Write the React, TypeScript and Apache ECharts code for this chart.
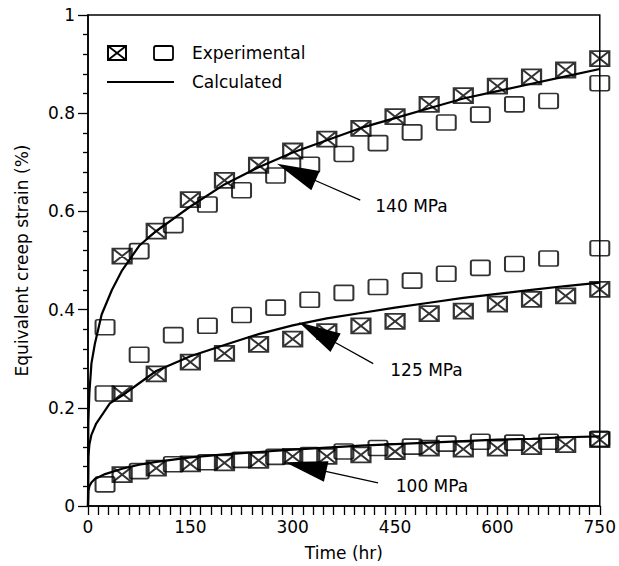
import React, { useEffect, useRef } from "react";
import * as echarts from "echarts";

// Experimental times (hr)
const CROSS_TIMES = [50, 100, 150, 200, 250, 300, 350, 400, 450, 500, 550, 600, 650, 700, 750];
const OPEN_TIMES = [25, 75, 125, 175, 225, 275, 325, 375, 425, 475, 525, 575, 625, 675, 750];

// Experimental strains (%)
const EXP_140_CROSS = [0.509, 0.56, 0.624, 0.663, 0.694, 0.723, 0.747, 0.769, 0.793, 0.818, 0.836, 0.855, 0.874, 0.888, 0.911];
const EXP_140_OPEN = [0.364, 0.519, 0.572, 0.614, 0.643, 0.673, 0.695, 0.717, 0.739, 0.761, 0.781, 0.797, 0.818, 0.825, 0.861];
const EXP_125_CROSS = [0.229, 0.269, 0.293, 0.311, 0.329, 0.34, 0.355, 0.367, 0.376, 0.392, 0.397, 0.411, 0.421, 0.428, 0.441];
const EXP_125_OPEN = [0.229, 0.308, 0.348, 0.367, 0.389, 0.404, 0.42, 0.434, 0.446, 0.459, 0.473, 0.485, 0.493, 0.504, 0.525];
const EXP_100_CROSS = [0.064, 0.077, 0.086, 0.088, 0.093, 0.101, 0.101, 0.104, 0.111, 0.118, 0.116, 0.118, 0.121, 0.125, 0.135];
const EXP_100_OPEN = [0.044, 0.071, 0.085, 0.089, 0.094, 0.1, 0.104, 0.111, 0.118, 0.121, 0.127, 0.131, 0.129, 0.131, 0.137];

// Calculated curves
const CALC_140_T = [0, 0.5, 2, 5, 10, 20, 35, 50, 75, 100, 150, 200, 250, 300, 350, 400, 450, 500, 550, 600, 650, 700, 750];
const CALC_140_V = [0, 0.17, 0.23, 0.29, 0.33, 0.39, 0.44, 0.48, 0.53, 0.56, 0.61, 0.655, 0.69, 0.72, 0.745, 0.77, 0.79, 0.81, 0.83, 0.845, 0.86, 0.875, 0.89];
const CALC_125_T = [0, 0.5, 2, 5, 12, 32, 50, 75, 100, 150, 200, 250, 300, 350, 400, 450, 500, 550, 600, 650, 700, 750];
const CALC_125_V = [0, 0.1, 0.125, 0.145, 0.168, 0.209, 0.225, 0.25, 0.275, 0.305, 0.328, 0.35, 0.368, 0.382, 0.393, 0.404, 0.414, 0.424, 0.432, 0.44, 0.448, 0.455];
const CALC_100_T = [0, 0.5, 2, 5, 10, 25, 50, 75, 100, 150, 200, 250, 300, 350, 400, 450, 500, 550, 600, 650, 700, 750];
const CALC_100_V = [0, 0.03, 0.04, 0.048, 0.055, 0.065, 0.076, 0.084, 0.09, 0.099, 0.105, 0.11, 0.115, 0.119, 0.123, 0.126, 0.129, 0.132, 0.135, 0.137, 0.14, 0.142];

// Annotations (data coordinates)
const LABELS = ["140 MPa", "125 MPa", "100 MPa"];
const ARROW_TIPS = [[277, 0.697], [309, 0.374], [289, 0.089]];
const ARROW_TAILS = [[399, 0.623], [418, 0.29], [425, 0.047]];
const LABEL_POS = [[421, 0.61], [443, 0.277], [451, 0.04]];

const FONT = "DejaVu Sans";
const CROSS_SYMBOL = "path://M1,1H21V17H1Z M1,1L21,17 M21,1L1,17";
const OPEN_SYMBOL = "path://M3,1H19Q21,1 21,3V15Q21,17 19,17H3Q1,17 1,15V3Q1,1 3,1Z";

const zip = (xs: number[], ys: number[]) => xs.map((x, i) => [x, ys[i]]);

export default function App() {
  const ref = useRef<HTMLDivElement>(null);
  useEffect(() => {
    if (!ref.current) return;
    const chart = echarts.init(ref.current, null, { renderer: "svg" });
    const crossStyle = {
      type: "scatter",
      symbol: CROSS_SYMBOL,
      symbolSize: [19, 15],
      itemStyle: { color: "transparent", borderColor: "#000", borderWidth: 2 },
      z: 3,
    };
    const openStyle = {
      type: "scatter",
      symbol: OPEN_SYMBOL,
      symbolSize: [19, 15],
      itemStyle: { color: "transparent", borderColor: "#000", borderWidth: 1.8 },
      z: 3,
    };
    const lineStyle = {
      type: "line",
      showSymbol: false,
      smooth: false,
      lineStyle: { color: "#000", width: 2.2 },
      z: 4,
    };
    chart.setOption({
      animation: false,
      grid: {
        left: 88,
        top: 15,
        right: 16,
        bottom: 56,
        show: true,
        borderColor: "#000",
        borderWidth: 1.5,
        backgroundColor: "transparent",
      },
      xAxis: {
        type: "value",
        min: 0,
        max: 750,
        interval: 150,
        name: "Time (hr)",
        nameLocation: "middle",
        nameGap: 38,
        nameTextStyle: { color: "#000", fontFamily: FONT, fontSize: 17 },
        axisLine: { lineStyle: { color: "#000", width: 1.5 } },
        axisTick: { show: true, inside: false, length: 9, lineStyle: { color: "#000", width: 1.3 } },
        minorTick: { show: true, splitNumber: 10, length: 9, lineStyle: { color: "#000", width: 1.3 } },
        axisLabel: { color: "#000", fontFamily: FONT, fontSize: 17, margin: 12 },
        splitLine: { show: false },
      },
      yAxis: {
        type: "value",
        min: 0,
        max: 1,
        interval: 0.2,
        name: "Equivalent creep strain (%)",
        nameLocation: "middle",
        nameGap: 58,
        nameTextStyle: { color: "#000", fontFamily: FONT, fontSize: 17 },
        axisLine: { lineStyle: { color: "#000", width: 1.5 } },
        axisTick: { show: true, inside: false, length: 10, lineStyle: { color: "#000", width: 1.3 } },
        minorTick: { show: true, splitNumber: 5, length: 5, lineStyle: { color: "#000", width: 1.3 } },
        axisLabel: { color: "#000", fontFamily: FONT, fontSize: 17, margin: 13 },
        splitLine: { show: false },
      },
      series: [
        { ...lineStyle, name: "Calc 140", data: zip(CALC_140_T, CALC_140_V) },
        { ...lineStyle, name: "Calc 125", data: zip(CALC_125_T, CALC_125_V) },
        { ...lineStyle, name: "Calc 100", data: zip(CALC_100_T, CALC_100_V) },
        { ...crossStyle, name: "140 X", data: zip(CROSS_TIMES, EXP_140_CROSS) },
        { ...openStyle, name: "140 O", data: zip(OPEN_TIMES, EXP_140_OPEN) },
        { ...crossStyle, name: "125 X", data: zip(CROSS_TIMES, EXP_125_CROSS) },
        { ...openStyle, name: "125 O", data: zip(OPEN_TIMES, EXP_125_OPEN) },
        { ...crossStyle, name: "100 X", data: zip(CROSS_TIMES, EXP_100_CROSS) },
        { ...openStyle, name: "100 O", data: zip(OPEN_TIMES, EXP_100_OPEN) },
      ],
    });

    const px = (p: number[]) => chart.convertToPixel({ gridIndex: 0 }, p) as number[];
    const elements: any[] = [];
    const HEAD_LEN = 42;
    const HEAD_HALF = 10.5;
    for (let i = 0; i < LABELS.length; i++) {
      const tip = px(ARROW_TIPS[i]);
      const tail = px(ARROW_TAILS[i]);
      const dx = tail[0] - tip[0];
      const dy = tail[1] - tip[1];
      const len = Math.sqrt(dx * dx + dy * dy);
      const ux = dx / len;
      const uy = dy / len;
      const bx = tip[0] + ux * HEAD_LEN;
      const by = tip[1] + uy * HEAD_LEN;
      elements.push({
        type: "polygon",
        shape: {
          points: [
            [tip[0], tip[1]],
            [bx - uy * HEAD_HALF, by + ux * HEAD_HALF],
            [bx + uy * HEAD_HALF, by - ux * HEAD_HALF],
          ],
        },
        style: { fill: "#000" },
        z: 10,
      });
      elements.push({
        type: "line",
        shape: { x1: bx - ux * 4, y1: by - uy * 4, x2: tail[0], y2: tail[1] },
        style: { stroke: "#000", lineWidth: 1.2 },
        z: 10,
      });
      const lp = px(LABEL_POS[i]);
      elements.push({
        type: "text",
        x: lp[0],
        y: lp[1],
        style: {
          text: LABELS[i],
          fill: "#000",
          font: `17px "${FONT}"`,
          textAlign: "left",
          textVerticalAlign: "middle",
        },
        z: 10,
      });
    }
    // legend
    elements.push({
      type: "group",
      x: 108,
      y: 46,
      children: [
        { type: "rect", shape: { x: 0, y: 0, width: 18, height: 14 }, style: { fill: "transparent", stroke: "#000", lineWidth: 2 } },
        { type: "line", shape: { x1: 0, y1: 0, x2: 18, y2: 14 }, style: { stroke: "#000", lineWidth: 1.8 } },
        { type: "line", shape: { x1: 18, y1: 0, x2: 0, y2: 14 }, style: { stroke: "#000", lineWidth: 1.8 } },
      ],
      z: 10,
    });
    elements.push({
      type: "rect",
      shape: { x: 154, y: 46, width: 19, height: 14, r: 2 },
      style: { fill: "transparent", stroke: "#000", lineWidth: 1.8 },
      z: 10,
    });
    elements.push({
      type: "text",
      x: 192,
      y: 53,
      style: { text: "Experimental", fill: "#000", font: `17px "${FONT}"`, textVerticalAlign: "middle" },
      z: 10,
    });
    elements.push({
      type: "line",
      shape: { x1: 107, y1: 82, x2: 174, y2: 82 },
      style: { stroke: "#000", lineWidth: 2.2 },
      z: 10,
    });
    elements.push({
      type: "text",
      x: 192,
      y: 82,
      style: { text: "Calculated", fill: "#000", font: `17px "${FONT}"`, textVerticalAlign: "middle" },
      z: 10,
    });
    chart.setOption({ graphic: { elements } });

    return () => chart.dispose();
  }, []);
  return <div ref={ref} style={{ width: 619, height: 566, position: "absolute", left: 0, top: 0 }} />;
}
